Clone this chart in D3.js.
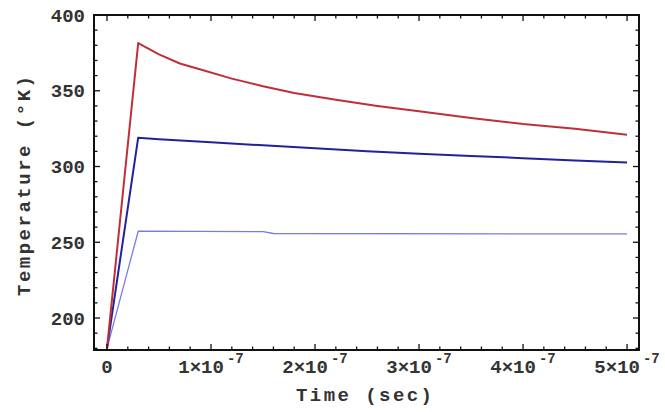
<!DOCTYPE html>
<html>
<head>
<meta charset="utf-8">
<script src="https://cdn.jsdelivr.net/npm/d3@7"></script>
<style>
  html, body { margin: 0; padding: 0; background: #fff; }
  svg { display: block; }
  text { font-family: "Liberation Mono", "Courier New", monospace; fill: #333; }
</style>
</head>
<body>
<svg></svg>
<script>
const width = 665
const height = 412
const margin = {top: 15, right: 26, bottom: 62, left: 94}

// time in seconds
const timeRed = [0, 0.3e-7, 0.5e-7, 0.7e-7, 0.9e-7, 1.2e-7, 1.5e-7, 1.8e-7, 2.2e-7, 2.6e-7, 3.0e-7, 3.5e-7, 4.0e-7, 4.5e-7, 5.0e-7]
const tempRed = [180, 381.5, 374, 368, 364, 358, 353, 348.5, 344, 340, 336.5, 332, 328, 325, 321]

const timeBlue = [0, 0.3e-7, 0.5e-7, 1.0e-7, 1.5e-7, 2.0e-7, 2.5e-7, 3.0e-7, 3.5e-7, 4.0e-7, 4.5e-7, 5.0e-7]
const tempBlue = [180, 319, 318, 316, 314, 312, 310, 308.5, 307, 305.5, 304, 302.6]

const timeLight = [0, 0.3e-7, 1.5e-7, 1.6e-7, 5.0e-7]
const tempLight = [180, 257.3, 257, 255.8, 255.5]

const xTicks = [0, 1e-7, 2e-7, 3e-7, 4e-7, 5e-7]
const yTicks = [200, 250, 300, 350, 400]

const series = [
    {t: timeLight, v: tempLight, color: "#7b7be6", w: 1.3},
    {t: timeBlue, v: tempBlue, color: "#22229a", w: 2},
    {t: timeRed, v: tempRed, color: "#bf2f3a", w: 2}
]

const svg = d3.select("svg").attr("width", width).attr("height", height)

const x = d3.scaleLinear().domain([-0.125e-7, 5.115e-7]).range([margin.left, width - margin.right])
const y = d3.scaleLinear().domain([178.9, 400]).range([height - margin.bottom, margin.top])

// lines
const line = d3.line().x(d => x(d[0])).y(d => y(d[1]))
svg.append("g")
    .selectAll("path")
    .data(series)
    .join("path")
    .attr("fill", "none")
    .attr("stroke", s => s.color)
    .attr("stroke-width", s => s.w)
    .attr("stroke-linejoin", "round")
    .attr("d", s => line(s.t.map((t, i) => [t, s.v[i]])))

// minor ticks (every 0.2e-7 and every 10 degrees)
const xMinor = d3.range(0, 5.1e-7, 0.2e-7)
const yMinor = d3.range(180, 401, 10)

const xLeft = x.range()[0], xRight = x.range()[1]
const yBot = y.range()[0], yTop = y.range()[1]

const ticks = svg.append("g").attr("stroke", "#111").attr("stroke-width", 1.3)
function tickLen(major) { return major ? 6 : 3.5 }
xMinor.forEach(t => {
    const major = xTicks.some(m => Math.abs(m - t) < 1e-10)
    const len = tickLen(major)
    ticks.append("line").attr("x1", x(t)).attr("x2", x(t)).attr("y1", yBot).attr("y2", yBot - len)
    ticks.append("line").attr("x1", x(t)).attr("x2", x(t)).attr("y1", yTop).attr("y2", yTop + len)
})
yMinor.forEach(v => {
    const major = yTicks.includes(v)
    const len = tickLen(major)
    ticks.append("line").attr("y1", y(v)).attr("y2", y(v)).attr("x1", xLeft).attr("x2", xLeft + len)
    ticks.append("line").attr("y1", y(v)).attr("y2", y(v)).attr("x1", xRight).attr("x2", xRight - len)
})

// frame
svg.append("rect")
    .attr("x", xLeft).attr("y", yTop)
    .attr("width", xRight - xLeft).attr("height", yBot - yTop)
    .attr("fill", "none").attr("stroke", "#111").attr("stroke-width", 2)

// y tick labels
svg.append("g")
    .selectAll("text")
    .data(yTicks)
    .join("text")
    .attr("x", xLeft - 9)
    .attr("y", d => y(d))
    .attr("dy", "0.35em")
    .attr("text-anchor", "end")
    .style("font-size", "19px")
    .style("font-weight", "bold")
    .text(d => d)

// x tick labels
const xl = svg.append("g")
    .selectAll("text")
    .data(xTicks)
    .join("text")
    .attr("x", d => x(d))
    .attr("y", 373)
    .attr("text-anchor", "middle")
    .style("font-size", "19px")
    .style("font-weight", "bold")
xl.each(function(d) {
    const el = d3.select(this)
    if (d === 0) { el.text("0"); return }
    el.append("tspan").text(`${Math.round(d / 1e-7)}×10`)
    el.append("tspan").attr("dy", -10).attr("dx", 3).style("font-size", "14px").text("-7")
})

// axis titles
svg.append("text")
    .attr("x", 364)
    .attr("y", 401)
    .attr("text-anchor", "middle")
    .attr("textLength", 136)
    .style("font-size", "19px")
    .style("font-weight", "bold")
    .text("Time (sec)")

svg.append("text")
    .attr("transform", `translate(30,186) rotate(-90)`)
    .attr("text-anchor", "middle")
    .attr("textLength", 220)
    .style("font-size", "19px")
    .style("font-weight", "bold")
    .text("Temperature (°K)")
</script>
</body>
</html>
